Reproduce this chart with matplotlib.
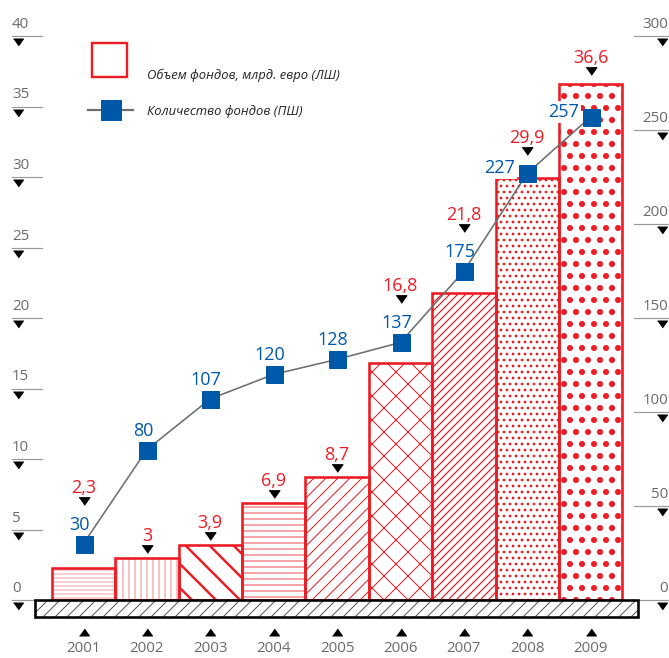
import numpy as np
import matplotlib.pyplot as plt
from matplotlib.patches import Rectangle

plt.rcParams['font.family'] = ['Open Sans', 'DejaVu Sans']

# данные
years = ['2001', '2002', '2003', '2004', '2005', '2006', '2007', '2008', '2009']
volume = [2.3, 3, 3.9, 6.9, 8.7, 16.8, 21.8, 29.9, 36.6]      # млрд. евро (ЛШ)
funds = [30, 80, 107, 120, 128, 137, 175, 227, 257]            # количество (ПШ)
left_ticks = [0, 5, 10, 15, 20, 25, 30, 35, 40]
right_ticks = [0, 50, 100, 150, 200, 250, 300]

RED = '#ec1c24'
BLUE = '#0058a8'
LINE_GRAY = '#6e6e6e'
TXT_GRAY = '#6a6a6a'

# штриховки столбцов: (узор, цвет, толщина линии)
hatches = [('---', '#f4a3a6', 1.0), ('||', '#f2898d', 1.0), ('\\', RED, 2.4),
           ('--', '#ef4d53', 1.0), ('//', RED, 1.0), ('x', RED, 1.0),
           ('///', RED, 1.2), ('..', RED, 1.5), ('.', RED, 3.6)]

W, H, DPI = 669, 658, 72
X0, DX = 83.5, 63.4      # центр первого столбца и шаг, px
Y0, KY = 600, 14.1       # нулевая линия (px сверху) и px на единицу ЛШ
RATIO = 7.5              # ПШ / ЛШ


def px_x(p):
    return (p - X0) / DX


def px_y(p):
    return (Y0 - p) / KY


fig = plt.figure(figsize=(W / DPI, H / DPI), dpi=DPI)
ax = fig.add_axes([0, 0, 1, 1])
ax.set_xlim(px_x(0), px_x(W))
ax.set_ylim(px_y(H), px_y(0))
ax.axis('off')

x = np.arange(len(years))

# столбцы: сначала штриховка, потом контур
for i, v in enumerate(volume):
    pat, col, lw = hatches[i]
    b = ax.bar(x[i], v, width=1.0, facecolor='white', edgecolor=col, linewidth=0,
               hatch=pat, zorder=2)[0]
    if hasattr(b, 'set_hatch_linewidth'):
        b.set_hatch_linewidth(lw)
    ax.bar(x[i], v, width=1.0, fill=False, edgecolor=RED, linewidth=2.6, zorder=3)

# основание
base_xy = (px_x(35), px_y(617))
base_w = px_x(638) - px_x(35)
base_h = (617 - Y0) / KY
base = Rectangle(base_xy, base_w, base_h, facecolor='white', edgecolor='#555555',
                 linewidth=0, hatch='//', zorder=4)
ax.add_patch(base)
if hasattr(base, 'set_hatch_linewidth'):
    base.set_hatch_linewidth(1.0)
ax.add_patch(Rectangle(base_xy, base_w, base_h, fill=False, edgecolor='black',
                       linewidth=2.6, zorder=5))

tri_down = [(-1, 0.7), (1, 0.7), (0, -0.7)]
tri_up = [(-1, -0.7), (1, -0.7), (0, 0.7)]

# левая шкала
for t in left_ticks:
    ax.plot([px_x(12), px_x(42)], [t, t], color='#9a9a9a', lw=1.2, clip_on=False)
    ax.annotate(str(t), (px_x(12), t), xytext=(0, 8), textcoords='offset points',
                ha='left', va='baseline', fontsize=15, color=TXT_GRAY)
    ax.plot(px_x(18), t - 6 / KY, marker=tri_down, ms=10, color='black', ls='none')

# правая шкала
for t in right_ticks:
    yy = t / RATIO
    ax.plot([px_x(634), px_x(668)], [yy, yy], color='#9a9a9a', lw=1.2, clip_on=False)
    ax.annotate(str(t), (px_x(668), yy), xytext=(0, 8), textcoords='offset points',
                ha='right', va='baseline', fontsize=15, color=TXT_GRAY)
    ax.plot(px_x(662), yy - 6 / KY, marker=tri_down, ms=10, color='black', ls='none')

# годы
for i, yr in enumerate(years):
    ax.plot(x[i], px_y(632), marker=tri_up, ms=10, color='black', ls='none')
    ax.text(x[i], px_y(648), yr, ha='center', va='center', fontsize=15, color=TXT_GRAY)

# линия количества фондов
ax2 = ax.twinx()
ax2.set_ylim(px_y(H) * RATIO, px_y(0) * RATIO)
ax2.axis('off')
ax2.plot(x, funds, color=LINE_GRAY, lw=1.6, zorder=5)
ax2.plot(x, funds, ls='none', marker='s', ms=17, color=BLUE, zorder=6)

# подписи значений
for i in range(len(years)):
    top_px = volume[i] * KY
    m_px = funds[i] / RATIO * KY
    gap = m_px - top_px
    if gap > 10:
        ax2.annotate(str(funds[i]), (x[i], funds[i]), xytext=(-4, 19), textcoords='offset points',
                     ha='center', va='center', fontsize=18, color=BLUE, zorder=7)
        if gap < 60:
            tri_px = m_px + 43
        else:
            tri_px = top_px + 9
    else:
        ax2.annotate(str(funds[i]), (x[i], funds[i]), xytext=(-12, 5), textcoords='offset points',
                     ha='right', va='center', fontsize=18, color=BLUE, zorder=7,
                     bbox=dict(boxstyle='square,pad=0.1', fc='white', ec='none'))
        tri_px = max(top_px, m_px + 9) + 13
    ax.plot(x[i], tri_px / KY, marker=tri_down, ms=11, color='black', ls='none', zorder=7)
    ax.annotate(f'{volume[i]:g}'.replace('.', ','), (x[i], tri_px / KY), xytext=(0, 8),
                textcoords='offset points', ha='center', va='baseline', fontsize=18,
                color=RED, zorder=7)

# легенда
ax.add_patch(Rectangle((px_x(92), px_y(77)), (127 - 92) / DX, (77 - 43) / KY,
                       fill=False, edgecolor=RED, linewidth=2.4, zorder=5))
ax.text(px_x(147), px_y(75), 'Объем фондов, млрд. евро (ЛШ)', fontsize=13, style='italic',
        color='#222222', ha='left', va='center')
ax.plot([px_x(88), px_x(133)], [px_y(110)] * 2, color=LINE_GRAY, lw=2.2, zorder=5)
ax.plot(px_x(111), px_y(110), marker='s', ms=20, color=BLUE, zorder=6)
ax.text(px_x(147), px_y(111), 'Количество фондов (ПШ)', fontsize=13, style='italic',
        color='#222222', ha='left', va='center')

fig.savefig('out.png', dpi=DPI)
